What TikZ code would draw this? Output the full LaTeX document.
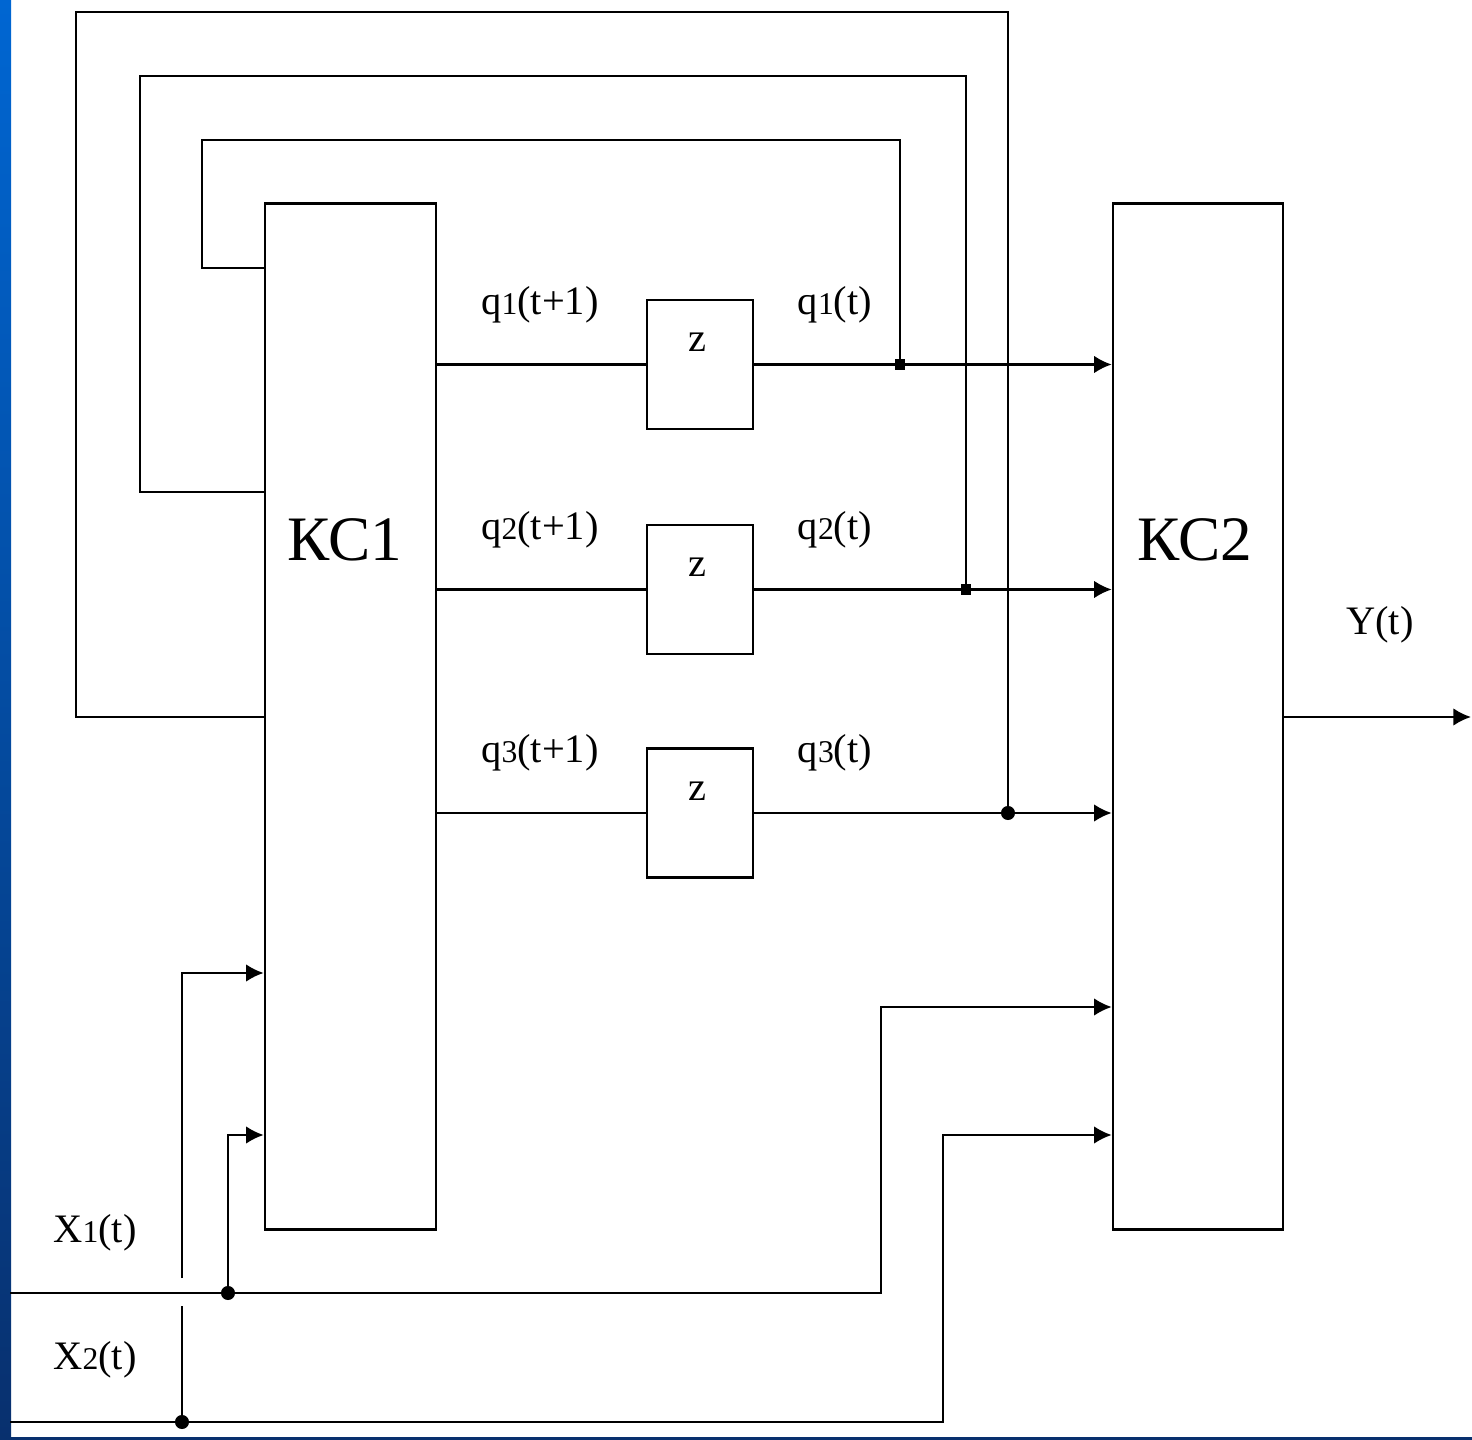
\documentclass[tikz,border=0pt]{standalone}
\usepackage{fontspec}
\setmainfont{Liberation Serif}
\usetikzlibrary{arrows.meta}
\definecolor{slidetop}{RGB}{0,102,210}
\definecolor{slidebot}{RGB}{8,48,110}

\begin{document}
\begin{tikzpicture}[x=0.01cm, y=-0.01cm, line width=0.7pt,
    font=\fontsize{11.5}{14}\selectfont,
    blk/.style={draw, fill=white, inner sep=0pt},
    rdot/.style={circle, fill, inner sep=0pt, minimum size=4pt},
    sqdot/.style={rectangle, fill, inner sep=0pt, minimum width=2.8pt, minimum height=3.4pt},
    >={Latex[length=5pt,width=5pt]}]
  \useasboundingbox (0,0) rectangle (1472,1440);
  \fill[white] (0,0) rectangle (1472,1440);
  \shade[top color=slidetop, bottom color=slidebot] (0,0) rectangle (11,1440);
  \fill[slidebot] (0,1437) rectangle (1472,1440);

  \node[blk, minimum width=1.71cm, minimum height=10.25cm] (kc1) at (350.5,716.5) {};
  \node[blk, minimum width=1.70cm, minimum height=10.25cm] (kc2) at (1198,716.5) {};
  \node[font=\fontsize{18}{20}\selectfont] (kc1t) at (345,540) {КС1};
  \node[font=\fontsize{18}{20}\selectfont] (kc2t) at (1195,540) {КС2};

  \foreach \i/\y in {1/364.5, 2/589.5, 3/813} {
    \node[blk, minimum width=1.06cm, minimum height=1.29cm] (z\i) at (700,\y) {};
    \node (zt\i) at (697,\y-22) {z};
    \node (qa\i) at (540,\y-60) {q{\fontsize{9}{10}\selectfont\i}(t+1)};
    \node (qb\i) at (835,\y-60) {q{\fontsize{9}{10}\selectfont\i}(t)};
    \draw (kc1.east |- z\i.west) -- (z\i.west);
    \draw[->] (z\i.east) -- (kc2.west |- z\i.east);
  }

  \coordinate (j1) at (900,364.5);
  \coordinate (j2) at (966,589.5);
  \coordinate (j3) at (1008,813);
  \foreach \i/\top/\lx/\ly in {1/140/202/268, 2/76/140/492, 3/12/76/717} {
    \coordinate (e\i) at (265,\ly);
    \draw (j\i) |- (\lx,\top) |- (e\i);
  }
  \node[sqdot] at (j1) {};
  \node[sqdot] at (j2) {};
  \node[rdot] at (j3) {};

  \coordinate (x1s) at (10,1293);
  \coordinate (x2s) at (10,1422);
  \coordinate (d1) at (228,1293);
  \coordinate (d2) at (182,1422);
  \coordinate (c1) at (881,1007);
  \coordinate (c2) at (943,1135);
  \coordinate (c3) at (228,1135);
  \coordinate (c4) at (182,973);
  \coordinate (g1) at (182,1278);
  \coordinate (g2) at (182,1306);
  \draw[->] (x1s) -| (c1) -- (kc2.west |- c1);
  \draw[->] (x2s) -| (c2) -- (kc2.west |- c2);
  \draw[->] (d1) -- (c3) -- (kc1.west |- c3);
  \draw (d2) -- (g2);
  \draw[->] (g1) -- (c4) -- (kc1.west |- c4);
  \node[rdot] at (d1) {};
  \node[rdot] at (d2) {};

  \coordinate (yout) at (1471,717);
  \draw[->] (kc2.east |- yout) -- (yout);

  \node (x1l) at (95,1233) {X{\fontsize{9}{10}\selectfont 1}(t)};
  \node (x2l) at (95,1360) {X{\fontsize{9}{10}\selectfont 2}(t)};
  \node (yl) at (1380,625) {Y(t)};
\end{tikzpicture}
\end{document}
